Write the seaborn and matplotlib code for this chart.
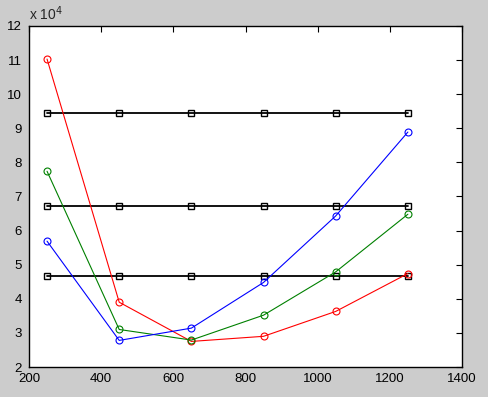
import numpy as np
import matplotlib
matplotlib.use("Agg")
import matplotlib.pyplot as plt
import seaborn as sns
from matplotlib.ticker import FuncFormatter

# ─────────────────────────────
# DATA
# ─────────────────────────────
x_vals = [250, 450, 650, 850, 1050, 1250]

red_vals   = [110300, 39000, 27500, 29000, 36300, 47400]
green_vals = [77400, 31000, 27900, 35200, 47900, 64800]
blue_vals  = [56900, 27800, 31400, 44800, 64300, 88900]

flat_levels = [94400, 67100, 46600]

# ─────────────────────────────
# PLOT
# ─────────────────────────────
sns.set_style("white")
plt.rcParams["font.family"] = ["Liberation Sans", "DejaVu Sans"]

fig = plt.figure(figsize=(4.88, 3.97), dpi=100, facecolor="#cccccc")
ax = fig.add_axes([29 / 488, 30 / 397, 433 / 488, 341 / 397])
ax.set_facecolor("white")

for lvl in flat_levels:
    sns.lineplot(x=x_vals, y=[lvl] * len(x_vals), color="black", marker="s",
                 markersize=4.6, markerfacecolor="none", markeredgecolor="black",
                 markeredgewidth=1.0, linewidth=1.3, ax=ax)

for vals, col in [(red_vals, "#ff0000"), (green_vals, "#008000"), (blue_vals, "#0000ff")]:
    sns.lineplot(x=x_vals, y=vals, color=col, marker="o", markersize=5,
                 markerfacecolor="none", markeredgecolor=col,
                 markeredgewidth=0.8, linewidth=0.8, ax=ax)

ax.set_xlim(200, 1400)
ax.set_ylim(20000, 120000)
ax.set_xticks(range(200, 1401, 200))
ax.set_yticks(range(20000, 120001, 10000))
ax.yaxis.set_major_formatter(FuncFormatter(lambda v, p: f"{v / 1e4:g}"))

ax.tick_params(direction="in", top=True, right=True, length=4, width=0.8,
               labelsize=9.5, colors="black")
ax.tick_params(axis="x", pad=4)
ax.tick_params(axis="y", pad=5)
for s in ax.spines.values():
    s.set_visible(True)
    s.set_color("black")
    s.set_linewidth(1.0)

ax.text(0.0, 1.01, "x 10$^4$", transform=ax.transAxes, fontsize=10,
        ha="left", va="bottom")

fig.savefig("out.png", dpi=100, facecolor=fig.get_facecolor())
